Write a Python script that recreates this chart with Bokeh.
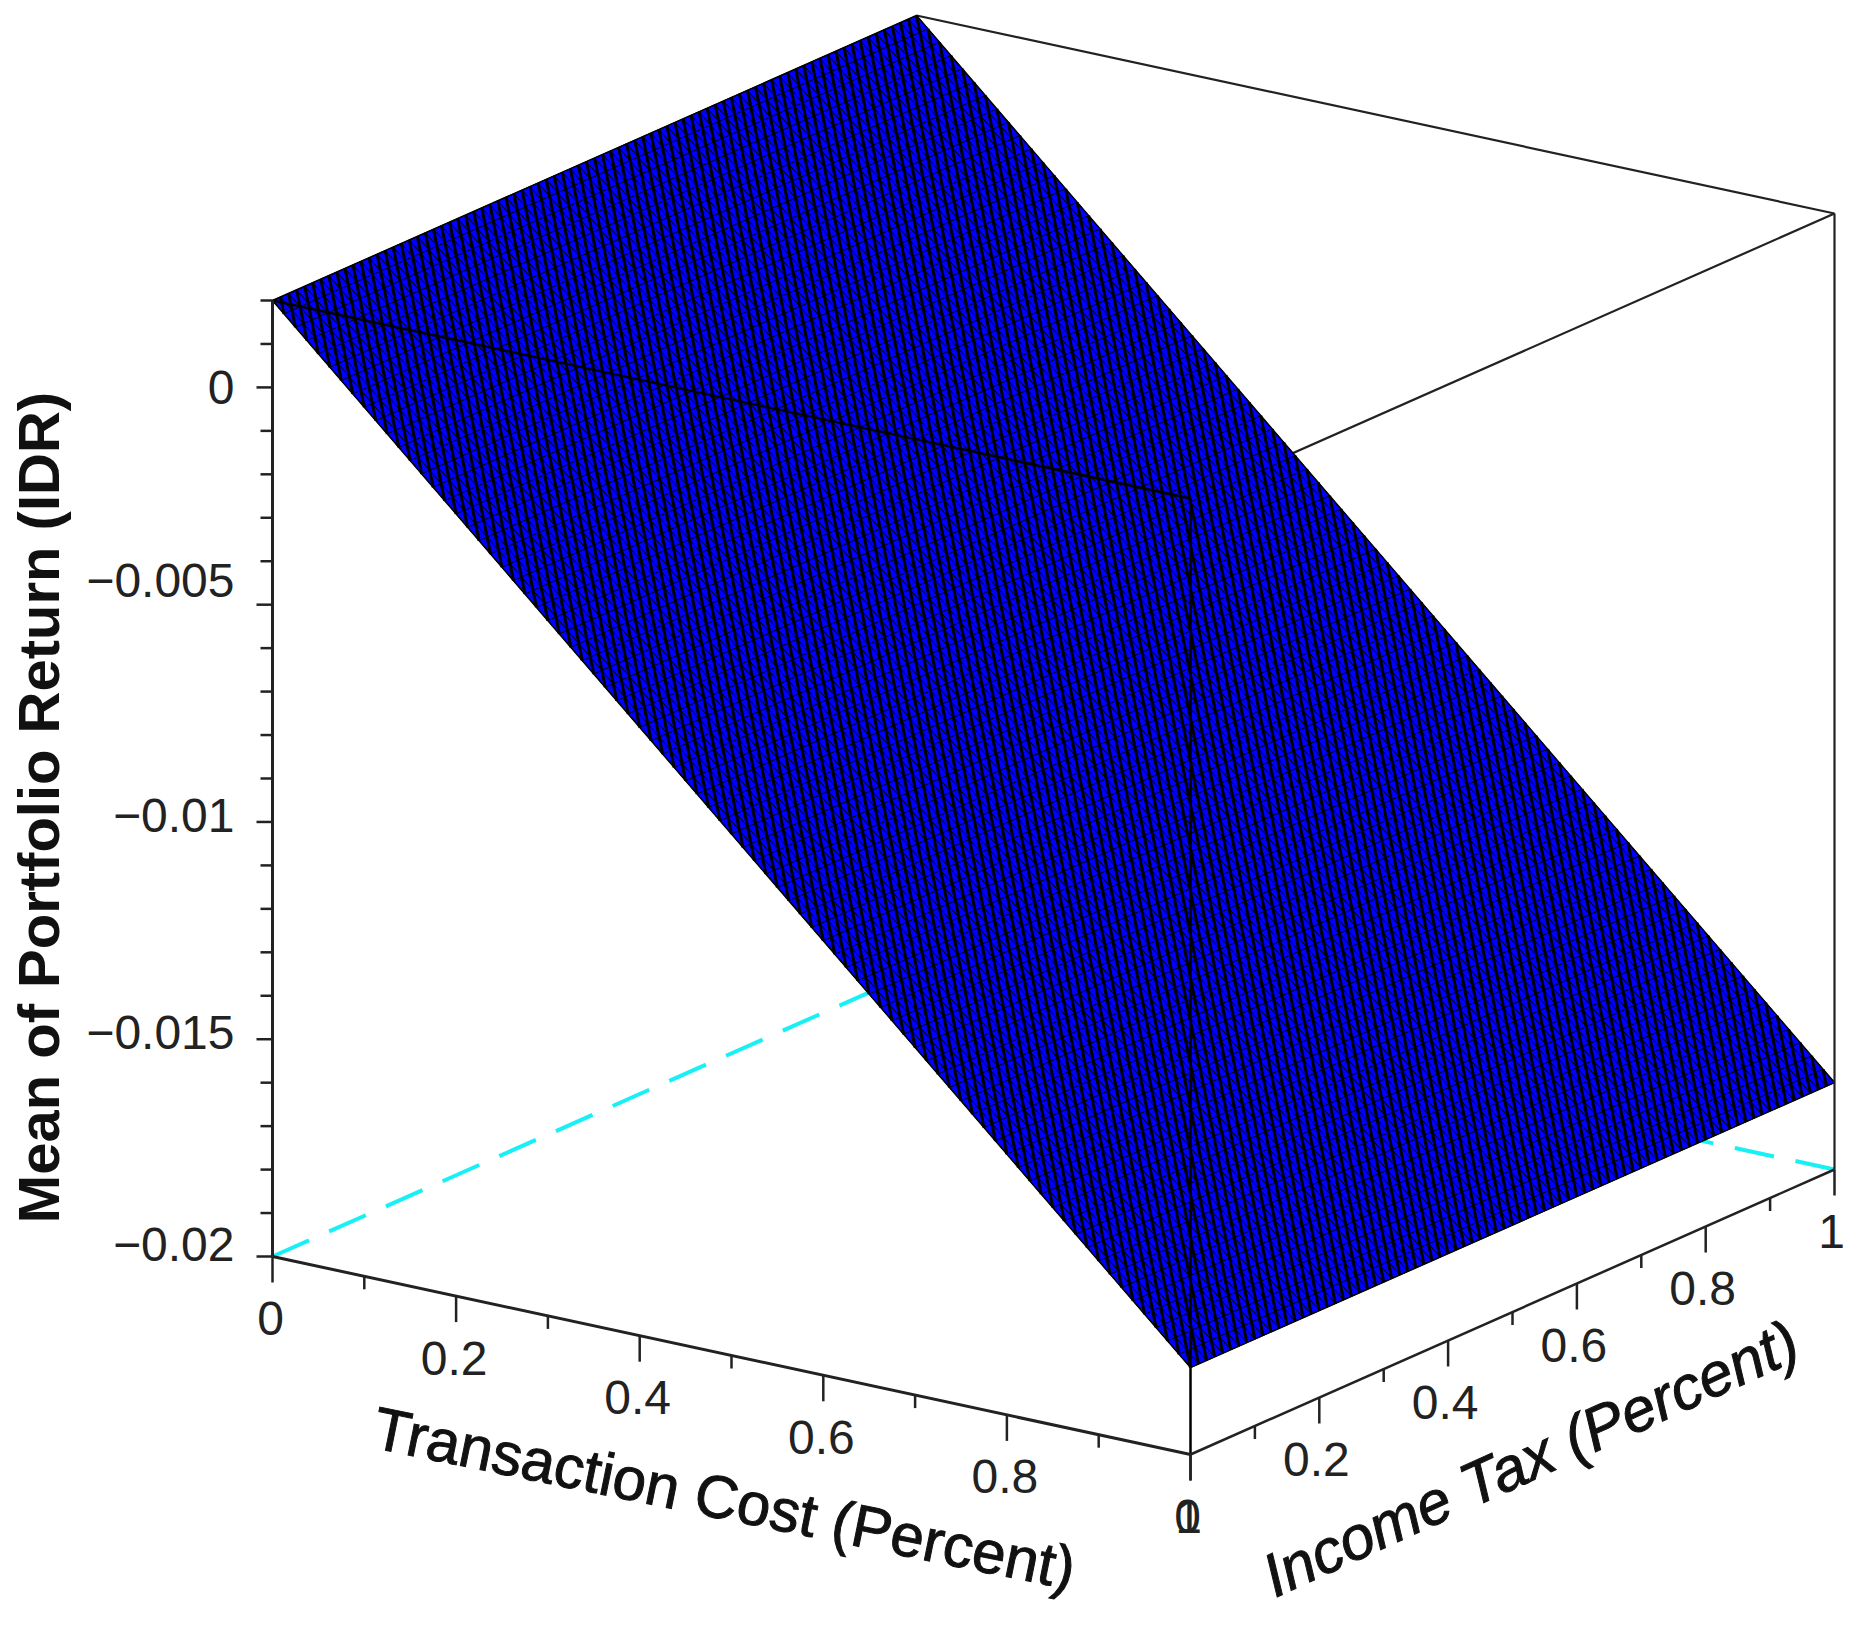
import numpy as np
from bokeh.plotting import figure
from bokeh.models import Range1d
from bokeh.core.properties import value
from bokeh.embed import file_html
from bokeh.resources import INLINE

# ---- data ----
tc_ticks = [0, 0.2, 0.4, 0.6, 0.8, 1]
tc_tick_labels = ["0", "0.2", "0.4", "0.6", "0.8", "1"]
tax_ticks = [0, 0.2, 0.4, 0.6, 0.8, 1]
tax_tick_labels = ["0", "0.2", "0.4", "0.6", "0.8", "1"]
tc_minor = [0.1, 0.3, 0.5, 0.7, 0.9]
tax_minor = [0.1, 0.3, 0.5, 0.7, 0.9]
z_ticks = [0, -0.005, -0.01, -0.015, -0.02]
z_tick_labels = ["0", "\u22120.005", "\u22120.01", "\u22120.015", "\u22120.02"]
z_minor = [0.002, 0.001, -0.001, -0.002, -0.003, -0.004, -0.006, -0.007, -0.008, -0.009,
           -0.011, -0.012, -0.013, -0.014, -0.016, -0.017, -0.018, -0.019]
surface_tc = [0, 1, 1, 0]
surface_tax = [0, 0, 1, 1]
surface_z = [0.002, -0.018, -0.018, 0.002]
z_min, z_max = -0.02, 0.002
mesh_cells = 80

# ---- orthographic view of the box ----
O = np.array([280.0, 1264.0])
TC = np.array([918.0, 198.0])
TAX = np.array([644.0, -285.0])
ZV = np.array([0.0, -956.0 / 0.022])
z_label_dy = [0, -24, -6, -7, -12]


def proj(tc, tax, z):
    tc, tax, z = np.asarray(tc, float), np.asarray(tax, float), np.asarray(z, float)
    dz = z - z_min
    return (O[0] + tc * TC[0] + tax * TAX[0] + dz * ZV[0],
            O[1] + tc * TC[1] + tax * TAX[1] + dz * ZV[1])


def surf_z(tc):
    return np.interp(tc, [surface_tc[0], surface_tc[1]], [surface_z[0], surface_z[1]])


p = figure(width=1844, height=1611, output_backend="svg", toolbar_location=None,
           x_range=Range1d(8, 1852), y_range=Range1d(1619, 8), min_border=0)
p.axis.visible = False
p.grid.visible = False
p.outline_line_color = None
p.background_fill_color = "white"
p.border_fill_color = "white"

AX = "#222222"


def seg(a, b, color=AX, width=2.2, dash="solid"):
    (x0, y0), (x1, y1) = proj(*a), proj(*b)
    p.line([x0, x1], [y0, y1], line_color=color, line_width=width, line_dash=dash)


# back cyan floor lines
seg((0, 0, z_min), (0, 1, z_min), "#19f0f5", 4, "40 22")
seg((1, 1, z_min), (0, 1, z_min), "#19f0f5", 4, "40 22")

# hidden box line behind the surface
seg((1, 0, z_max), (1, 1, z_max))
seg((0, 1, z_max), (1, 1, z_max))

# surface: filled patch, mesh lines and the diagonals of the mesh cells
sx, sy = proj(surface_tc, surface_tax, surface_z)
p.patch(list(sx), list(sy), fill_color="#0000ff", line_color="black", line_width=1.5)
mesh = np.linspace(0, 1, mesh_cells + 1)
x0, y0 = proj(mesh, np.zeros_like(mesh), surf_z(mesh))
x1, y1 = proj(mesh, np.ones_like(mesh), surf_z(mesh))
p.segment(x0, y0, x1, y1, line_color="black", line_width=1.0)
x0, y0 = proj(np.zeros_like(mesh), mesh, surf_z(np.zeros_like(mesh)))
x1, y1 = proj(np.ones_like(mesh), mesh, surf_z(np.ones_like(mesh)))
p.segment(x0, y0, x1, y1, line_color="black", line_width=1.0)
s = np.linspace(0, 2, 2 * mesh_cells + 1)
tc0, tax0 = np.minimum(s, 1), np.maximum(s - 1, 0)
tc1, tax1 = np.maximum(s - 1, 0), np.minimum(s, 1)
x0, y0 = proj(tc0, tax0, surf_z(tc0))
x1, y1 = proj(tc1, tax1, surf_z(tc1))
p.segment(x0, y0, x1, y1, line_color="black", line_width=3.0)

# box lines in front of the surface
seg((0, 0, z_max), (1, 0, z_max), "#000000", 2.5)
seg((1, 0, z_max), (1, 0, z_min), "#000000", 2.5)

# axes
seg((0, 0, z_min), (0, 0, z_max), width=3)
seg((0, 0, z_min), (1, 0, z_min), width=3)
seg((1, 0, z_min), (1, 1, z_min), width=2.5)
seg((1, 1, z_min), (1, 1, z_max))


# ticks
def ticks(xs, ys, dx, dy, width=2.5):
    p.segment(xs, ys, xs + dx, ys + dy, line_color=AX, line_width=width)


zero = np.zeros(len(z_ticks))
x, y = proj(zero, zero, z_ticks)
ticks(x, y, -16, 0)
x, y = proj(np.zeros(len(z_minor)), np.zeros(len(z_minor)), z_minor)
ticks(x, y, -12, 0)
x, y = proj(tc_ticks, np.zeros(len(tc_ticks)), np.full(len(tc_ticks), z_min))
ticks(x, y, 0, 26)
x, y = proj(tc_minor, np.zeros(len(tc_minor)), np.full(len(tc_minor), z_min))
ticks(x, y, 0, 13)
x, y = proj(np.ones(len(tax_ticks)), tax_ticks, np.full(len(tax_ticks), z_min))
ticks(x, y, 0, 26)
x, y = proj(np.ones(len(tax_minor)), tax_minor, np.full(len(tax_minor), z_min))
ticks(x, y, 0, 13)

FONT = value("Liberation Sans")
TICK = "#222222"


def labels(xs, ys, texts, size="48px", align="center", base="middle"):
    p.text(x=list(xs), y=list(ys), text=texts, text_font=FONT, text_font_size=size,
           text_color=TICK, text_align=align, text_baseline=base)


x, y = proj(tc_ticks, np.zeros(len(tc_ticks)), np.full(len(tc_ticks), z_min))
labels(x - 2, y + 62, tc_tick_labels)
x, y = proj(np.ones(len(tax_ticks)), tax_ticks, np.full(len(tax_ticks), z_min))
labels(x - 3, y + 62, tax_tick_labels)
x, y = proj(zero, zero, z_ticks)
labels(x - 38, y + np.array(z_label_dy), z_tick_labels, align="right")

# axis titles
titles = ["Mean of Portfolio Return (IDR)", "Transaction Cost (Percent)", "Income Tax (Percent)"]
p.text(x=[46], y=[815], text=[titles[0]], angle=[np.pi / 2], text_font=FONT, text_font_size="58px",
       text_font_style="bold", text_color="#111111", text_align="center", text_baseline="middle")
p.text(x=[732], y=[1506], text=[titles[1]], angle=[-np.radians(11.5)], text_font=FONT,
       text_font_size="60px", text_color="#111111", text_outline_color="#111111",
       text_align="center", text_baseline="middle")
p.text(x=[1538], y=[1466], text=[titles[2]], angle=[np.radians(24.5)], text_font=FONT,
       text_font_size="61px", text_font_style="italic", text_color="#111111",
       text_outline_color="#111111", text_align="center", text_baseline="middle")

open("out.html", "w").write(file_html(p, INLINE))
